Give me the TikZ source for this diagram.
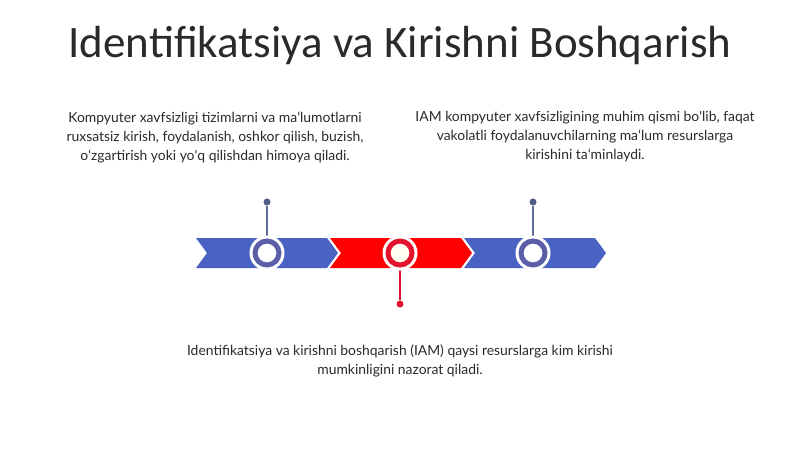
\documentclass[tikz,border=0pt]{standalone}
\usepackage{fontspec}
\setmainfont{Lato}
\newfontfamily\titlefont{Carlito}
\usetikzlibrary{positioning}

\definecolor{bandblue}{HTML}{4A62C2}
\definecolor{ringblue}{HTML}{5A5FA8}
\definecolor{stemblue}{HTML}{5F6B9C}
\definecolor{bandred}{HTML}{FF0000}
\definecolor{ringred}{HTML}{E3122E}
\definecolor{textgray}{HTML}{2A2A2A}

\tikzset{
	infotext/.style = {align = center, text = textgray, font = \fontsize{13.9}{19}\selectfont, inner sep = 0pt},
	ring/.style = {circle, draw = #1, line width = 5pt, fill = white, minimum size = 24pt, inner sep = 0pt},
	halo/.style = {circle, fill = white, minimum size = 35pt, inner sep = 0pt},
	stemdot/.style = {circle, fill = #1, minimum size = 7pt, inner sep = 0pt}
}

\begin{document}
\begin{tikzpicture}[x = 1pt, y = -1pt]
	\useasboundingbox [fill = white] (0, 0) rectangle (800, 449);
	\node [text = textgray, font = \titlefont\fontsize{45}{48}\selectfont] (title) at (400, 46) {Identifikatsiya va Kirishni Boshqarish};

	% band of chevrons
	\foreach \l/\c in {196/bandblue, 330/bandred, 464/bandblue}
		\fill [\c] (\l, 238) -- ++(131, 0) -- ++(11, 15) -- ++(-11, 15) -- (\l, 268) -- ++(11, -15) -- cycle;

	% stems and dots
	\node [stemdot = stemblue!85!black] (dotA) at (267, 202) {};
	\node [stemdot = ringred] (dotB) at (400, 304) {};
	\node [stemdot = stemblue!85!black] (dotC) at (533, 202) {};
	\coordinate (midA) at (267, 253);
	\coordinate (midB) at (400, 253);
	\coordinate (midC) at (533, 253);
	\draw [stemblue, line width = 1.3pt] (dotA) -- (midA);
	\draw [ringred, line width = 1.3pt] (dotB) -- (midB);
	\draw [stemblue, line width = 1.3pt] (dotC) -- (midC);

	% rings
	\node [halo] at (midA) {};
	\node [halo] at (midB) {};
	\node [halo] at (midC) {};
	\node [ring = ringblue] (ringA) at (midA) {};
	\node [ring = ringred, fill = yellow!6] (ringB) at (midB) {};
	\node [ring = ringblue] (ringC) at (midC) {};

	% texts
	\node [infotext] (left) at (215, 137) {Kompyuter xavfsizligi tizimlarni va maʻlumotlarni\\ruxsatsiz kirish, foydalanish, oshkor qilish, buzish,\\oʻzgartirish yoki yo\textquotesingle q qilishdan himoya qiladi.};
	\node [infotext] (right) at (585, 137) {IAM kompyuter xavfsizligining muhim qismi bo\textquotesingle lib, faqat\\vakolatli foydalanuvchilarning maʻlum resurslarga\\kirishini taʻminlaydi.};
	\node [infotext] (bottom) at (400, 361) {Identifikatsiya va kirishni boshqarish (IAM) qaysi resurslarga kim kirishi\\mumkinligini nazorat qiladi.};
\end{tikzpicture}
\end{document}
